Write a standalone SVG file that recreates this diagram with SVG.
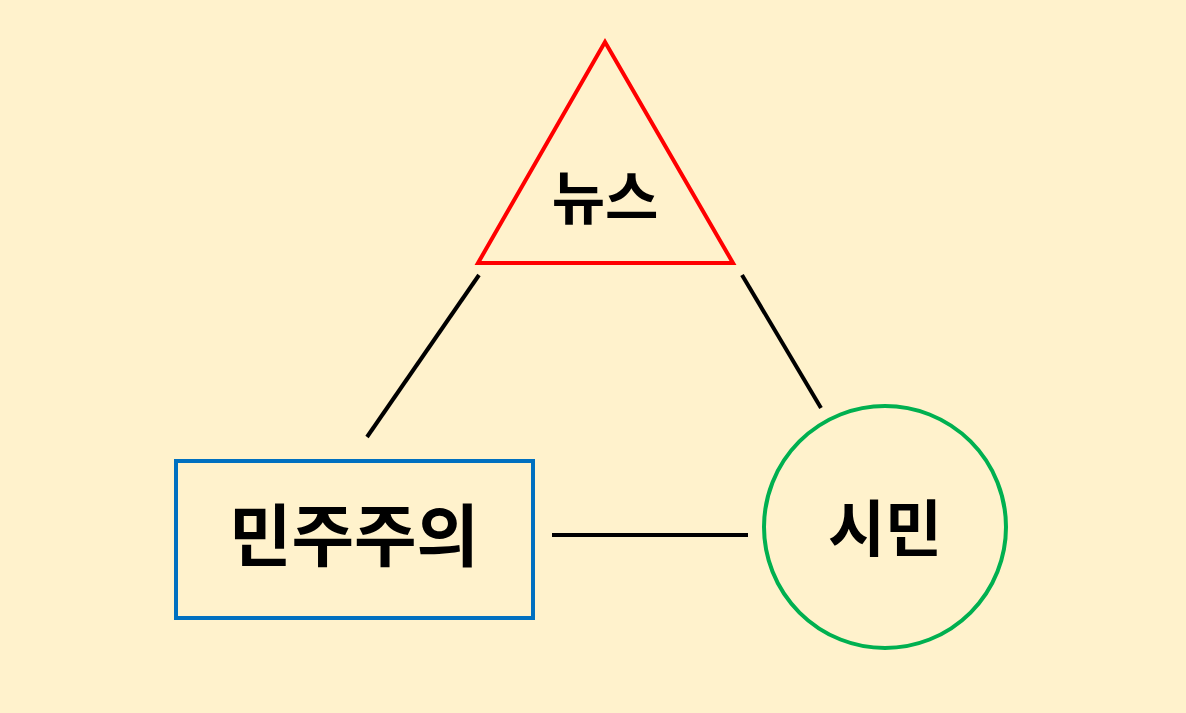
<svg xmlns="http://www.w3.org/2000/svg" width="1186" height="713" viewBox="0 0 1186 713">
<style>
text{font-family:"Noto Sans CJK KR","Noto Sans",sans-serif;font-weight:bold;fill:#000;text-anchor:middle}
.c{stroke:#000;stroke-width:4;fill:none}
</style>
<rect width="1186" height="713" fill="#fff2cc"/>
<g id="news"><polygon points="605,42 478,263 733,263" fill="none" stroke="#ff0000" stroke-width="4"/><text x="605" y="219" font-size="58">뉴스</text></g>
<g id="democracy"><rect x="176" y="461" width="357" height="157" fill="none" stroke="#0070c0" stroke-width="4"/><text x="354" y="561" font-size="68">민주주의</text></g>
<g id="citizen"><circle cx="885" cy="527" r="121" fill="none" stroke="#00b050" stroke-width="4"/><text x="885" y="552" font-size="62">시민</text></g>
<g id="connectors"><line class="c" x1="479" y1="275" x2="367" y2="437"/><line class="c" x1="742" y1="275" x2="821" y2="408"/><line class="c" x1="552" y1="535" x2="748" y2="535"/></g>
</svg>
